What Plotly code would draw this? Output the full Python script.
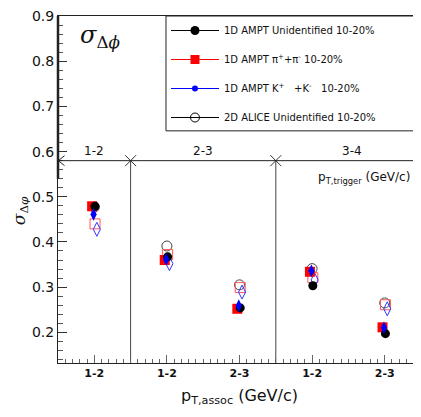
import plotly.graph_objects as go

# ---- data ----
assoc_labels = ["1-2", "1-2", "2-3", "1-2", "2-3"]
trigger_labels = ["1-2", "2-3", "3-4"]
bin_pos = [0, 1, 2, 3, 4]
y_tick_vals = [0.2, 0.3, 0.4, 0.5, 0.6, 0.7, 0.8, 0.9]

ampt_unid = [0.479, 0.367, 0.254, 0.303, 0.197]
ampt_pi = [0.479, 0.360, 0.252, 0.334, 0.211]
ampt_k = [0.461, 0.361, 0.259, 0.336, 0.210]
alice_unid = [0.477, 0.391, 0.305, 0.341, 0.265]
alice_pi = [0.440, 0.372, 0.299, 0.321, 0.261]
alice_k = [0.428, 0.352, 0.289, 0.316, 0.252]

Y_LO, Y_HI = 0.132, 0.9003
X_LO, X_HI = -0.5, 4.5
TRIG_Y = 0.58
TRIG_EDGES = [0.5, 2.5]
TRIG_CENTERS = [0.0, 1.5, 3.55]

FONT = "DejaVu Sans"

fig = go.Figure()

def shifted(dx):
    return [p + dx for p in bin_pos]

series = [
    (alice_unid, 0.0, dict(symbol="circle-open", size=10, color="#444", line=dict(width=1, color="#444"))),
    (alice_pi, 0.01, dict(symbol="square-open", size=10, color="#ff5555", line=dict(width=1, color="#ff5555"))),
    (alice_k, 0.035, dict(symbol="diamond-tall-open", size=10, color="#3333ff", line=dict(width=1, color="#3333ff"))),
    (ampt_pi, -0.03, dict(symbol="square", size=10, color="#ff0000")),
    (ampt_unid, 0.01, dict(symbol="circle", size=9, color="#000000")),
    (ampt_k, -0.01, dict(symbol="diamond-tall", size=9, color="#0000ff")),
]
for vals, dx, mk in series:
    fig.add_trace(go.Scatter(x=shifted(dx), y=vals, mode="markers", marker=mk,
                             showlegend=False, hoverinfo="skip"))

# legend-only entries
leg = [
    ("1D AMPT Unidentified 10-20%", "#000000", dict(symbol="circle", size=9, color="#000000")),
    ("1D AMPT π<sup>+</sup>+π<sup>-</sup> 10-20%", "#ff0000", dict(symbol="square", size=9, color="#ff0000")),
    ("1D AMPT K<sup>+</sup>   +K<sup>-</sup>   10-20%", "#0000ff", dict(symbol="circle", size=6, color="#0000ff")),
    ("2D ALICE Unidentified 10-20%", "#000000", dict(symbol="circle-open", size=9, color="#000000", line=dict(width=1))),
]
for i, (name, col, mk) in enumerate(leg):
    fig.add_trace(go.Scatter(x=[None], y=[None], mode="lines+markers", name=name,
                             line=dict(color=col, width=1), marker=mk,
                             legendgroup=f"g{i}", showlegend=True))

# trigger-bin separators
for xe in TRIG_EDGES:
    fig.add_trace(go.Scatter(x=[xe, xe], y=[Y_LO, TRIG_Y], mode="lines",
                             line=dict(color="#444", width=1), showlegend=False, hoverinfo="skip"))
fig.add_trace(go.Scatter(x=TRIG_EDGES, y=[TRIG_Y] * len(TRIG_EDGES), mode="markers",
                         marker=dict(symbol="x-thin-open", size=11, color="#333",
                                     line=dict(width=1, color="#333")),
                         showlegend=False, hoverinfo="skip"))

shapes = [
    dict(type="line", xref="x", yref="y", x0=X_LO, x1=X_HI, y0=TRIG_Y, y1=TRIG_Y,
         line=dict(color="#222", width=1)),
    # arrow heads
    dict(type="path", xref="x", yref="y",
         path=f"M {X_LO+0.09},{TRIG_Y+0.011} L {X_LO+0.005},{TRIG_Y} L {X_LO+0.09},{TRIG_Y-0.011}",
         line=dict(color="#222", width=1)),
    dict(type="path", xref="x", yref="y",
         path=f"M {X_HI-0.09},{TRIG_Y+0.011} L {X_HI-0.005},{TRIG_Y} L {X_HI-0.09},{TRIG_Y-0.011}",
         line=dict(color="#222", width=1)),
    # legend box
    dict(type="rect", xref="paper", yref="paper", x0=0.2975, x1=0.997, y0=0.669, y1=1.0,
         line=dict(color="#222", width=1), fillcolor="rgba(0,0,0,0)"),
    # thick upper part of y axis frame
    dict(type="line", xref="paper", yref="y", x0=0, x1=0, y0=0.54, y1=Y_HI,
         line=dict(color="#222", width=2.5)),
]

annotations = []
for xc, lab in zip(TRIG_CENTERS, trigger_labels):
    annotations.append(dict(x=xc, y=TRIG_Y, xref="x", yref="y", text=lab, showarrow=False,
                            xanchor="center", yanchor="bottom", yshift=1,
                            font=dict(family=FONT, size=12, color="#111")))
annotations += [
    dict(x=0.975, y=0.5425, xref="paper", yref="y", xanchor="right", showarrow=False,
         text="p<sub>T,trigger</sub> (GeV/c)", font=dict(family=FONT, size=12, color="#111")),
    dict(x=0.118, y=0.856, xref="paper", yref="y", xanchor="center", showarrow=False,
         text="<i>σ</i><sub>Δ<i>ϕ</i></sub>", font=dict(family="DejaVu Serif", size=24, color="#111")),
    dict(x=-0.105, y=0.47, xref="paper", yref="y", xanchor="center", yanchor="middle",
         showarrow=False, textangle=-90,
         text="<i>σ</i><sub>Δ<i>φ</i></sub>", font=dict(family="DejaVu Serif", size=17, color="#111")),
]

# page body has an 8px margin: size/offset the figure so the plot lands where the reference has it
fig.update_layout(
    width=413, height=401,
    margin=dict(l=50, r=0, t=5, b=46),
    paper_bgcolor="white", plot_bgcolor="white",
    font=dict(family=FONT, color="#111"),
    shapes=shapes, annotations=annotations,
    legend=dict(x=0.2975, y=1.0, xanchor="left", yanchor="top", bgcolor="rgba(0,0,0,0)",
                borderwidth=0, font=dict(family=FONT, size=10, color="#111"),
                tracegroupgap=10, traceorder="grouped", itemwidth=48),
    xaxis=dict(range=[X_LO, X_HI], tickvals=bin_pos, ticktext=assoc_labels,
               ticks="inside", ticklen=8, tickcolor="#666", tickwidth=1,
               minor=dict(dtick=0.1, tick0=X_LO, ticks="inside", ticklen=4, tickcolor="#666"),
               tickfont=dict(family=FONT, size=11, color="#111", weight="bold"),
               showline=True, linecolor="#222", linewidth=1, mirror=True,
               showgrid=False, zeroline=False,
               title=dict(text="p<sub>T,assoc</sub> (GeV/c)", font=dict(family=FONT, size=16), standoff=10)),
    yaxis=dict(range=[Y_LO, Y_HI], tickmode="array", tickvals=y_tick_vals,
               ticktext=[f"{v:.1f}" for v in y_tick_vals], ticklabeloverflow="allow",
               ticks="inside", ticklen=9, tickcolor="#333",
               minor=dict(dtick=0.02, tick0=0, ticks="inside", ticklen=5, tickcolor="#555"),
               tickfont=dict(family=FONT, size=14, color="#111"),
               showline=True, linecolor="#222", linewidth=1, mirror=False,
               showgrid=False, zeroline=False),
)

fig.write_html("out.html")
